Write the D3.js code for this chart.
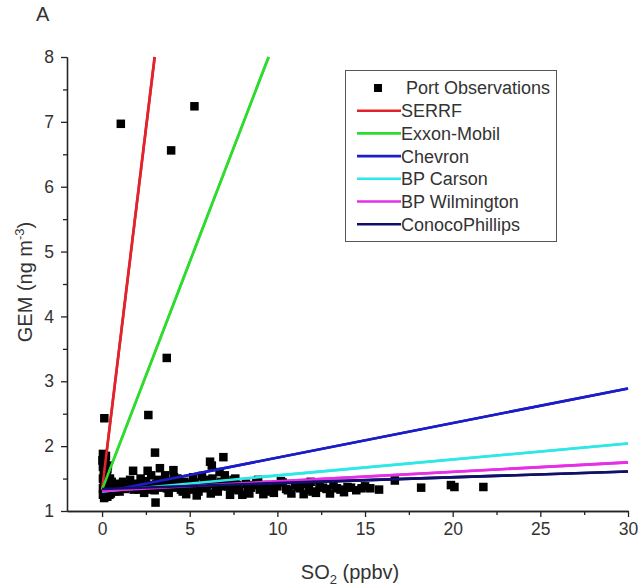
<!DOCTYPE html>
<html><head><meta charset="utf-8">
<script src="https://cdn.jsdelivr.net/npm/d3@7"></script>
<style>
html,body{margin:0;padding:0;background:#fff;}
svg{display:block;font-family:"Liberation Sans",Arial,sans-serif;}
</style></head>
<body>
<svg id="chart" width="640" height="588"></svg>
<script>
// ---- data ----
const obsX = [0.05,0.10,0.15,0.08,0.20,0.05,0.12,0.25,0.10,0.05,0.18,0.30,0.10,0.05,0.20,0.15,0.05,0.30,0.12,0.40,0.50,0.35,0.60,0.45,0.30,0.22,0.13,
  0.02,0.28,0.38,0.42,0.33,0.55,0.25,0.15,0.48,0.7,
  0.8,1.0,1.2,1.4,1.6,1.77,1.8,2.0,2.2,2.4,2.6,2.6,2.8,3.05,3.0,3.2,3.3,3.4,3.6,3.8,4.07,4.0,4.3,4.5,4.7,5.0,5.2,5.5,5.8,6.0,6.16,6.26,6.3,6.5,6.7,6.92,6.8,7.0,7.2,7.5,7.8,8.0,8.2,8.5,8.8,9.0,9.3,9.6,10.0,10.3,10.6,11.0,11.3,11.6,12.0,12.4,12.8,13.2,13.6,14.0,14.5,15.0,15.3,15.8,16.7,18.2,19.9,20.1,21.75,
  0.9,1.1,1.3,1.5,1.7,1.9,2.1,2.3,2.5,2.7,2.9,3.1,3.5,3.7,3.9,4.2,4.4,4.6,4.9,5.1,5.3,5.6,5.9,6.1,6.4,6.6,6.9,7.1,7.4,7.7,8.3,8.6,9.1,9.5,9.9,10.5,11.2,11.8,12.6,13.4,14.2,14.8,
  4.8,5.4,6.2,7.3,8.4,9.2,9.8,10.8,11.5,12.2,13.0,13.8,4.1,5.7,7.6,8.9,10.2,11.9,
  2.64,3.02,1.07,5.27,3.94,3.69];
const obsY = [1.88,1.85,1.80,1.75,1.72,1.68,1.64,1.60,1.55,1.50,1.47,1.44,1.40,1.35,1.32,1.28,1.25,1.22,1.20,1.30,1.27,1.38,1.35,1.50,1.65,1.85,2.43,
  1.78,1.58,1.42,1.25,1.70,1.45,1.52,1.36,1.34,1.30,
  1.42,1.30,1.45,1.38,1.48,1.62,1.33,1.42,1.50,1.28,1.40,1.62,1.55,1.13,1.32,1.48,1.66,1.36,1.55,1.28,1.63,1.40,1.50,1.33,1.45,1.38,1.52,1.30,1.45,1.40,1.76,1.70,1.50,1.35,1.60,1.83,1.45,1.55,1.38,1.48,1.32,1.25,1.42,1.36,1.45,1.33,1.40,1.30,1.38,1.44,1.32,1.40,1.35,1.42,1.30,1.38,1.34,1.40,1.33,1.37,1.32,1.38,1.35,1.33,1.47,1.36,1.40,1.37,1.37,
  1.35,1.40,1.34,1.44,1.36,1.40,1.33,1.38,1.46,1.33,1.40,1.42,1.40,1.35,1.45,1.36,1.42,1.30,1.42,1.33,1.44,1.38,1.35,1.48,1.42,1.30,1.38,1.45,1.33,1.40,1.30,1.40,1.38,1.34,1.40,1.34,1.37,1.33,1.36,1.35,1.36,1.35,
  1.26,1.24,1.27,1.25,1.27,1.26,1.28,1.27,1.26,1.28,1.27,1.29,1.52,1.54,1.50,1.48,1.46,1.45,
  2.48,1.90,6.97,7.24,6.56,3.36];

const lineNames = ["SERRF","Exxon-Mobil","Chevron","BP Carson","BP Wilmington","ConocoPhillips"];
const lineX0 = [0, 0, 0, 0, 0, 0];
const lineY0 = [1.33, 1.33, 1.29, 1.30, 1.31, 1.34];
const lineX1 = [3.0, 9.5, 30, 30, 30, 30];
const lineY1 = [8, 8, 2.89, 2.04, 1.75, 1.61];
const lineColors = ["#e3232b","#2edc2e","#1c1cc8","#2ee8e8","#e62ee6","#10106a"];

const xTicks = [0,5,10,15,20,25,30];
const yTicks = [1,2,3,4,5,6,7,8];

// ---- layout ----
const FONT = "'Liberation Sans',Arial,sans-serif";
const svg = d3.select("#chart");
const x = d3.scaleLinear().domain([-2, 30]).range([67, 628]);
const y = d3.scaleLinear().domain([1, 8]).range([511, 57]);

const xAxis = d3.axisBottom(x).tickValues(xTicks).tickSize(6).tickPadding(6).tickSizeOuter(0).tickFormat(d3.format("d"));
const yAxis = d3.axisLeft(y).tickValues(yTicks).tickSize(6).tickPadding(7).tickSizeOuter(0).tickFormat(d3.format("d"));
const xMinor = d3.axisBottom(x).tickValues(d3.range(2.5, 30, 5)).tickSize(4).tickFormat("").tickSizeOuter(0);
const yMinor = d3.axisLeft(y).tickValues(d3.range(1.5, 8, 1)).tickSize(4).tickFormat("").tickSizeOuter(0);

function styleAxis(g){
  g.selectAll("path,line").attr("stroke","#222").attr("stroke-width",1.3);
  g.selectAll("text").attr("fill","#333").style("font-size","17.5px").style("font-family",FONT);
}
svg.append("g").attr("transform","translate(0,511)").call(xMinor).call(styleAxis);
svg.append("g").attr("transform","translate(0,511)").call(xAxis).call(styleAxis);
svg.append("g").attr("transform","translate(67,0)").call(yMinor).call(styleAxis);
svg.append("g").attr("transform","translate(67,0)").call(yAxis).call(styleAxis);

const plot = svg.append("g");
function drawLines(){
  lineNames.forEach((n,i)=>{
    plot.append("line")
      .attr("x1", x(lineX0[i])).attr("y1", y(lineY0[i]))
      .attr("x2", x(lineX1[i])).attr("y2", y(lineY1[i]))
      .attr("stroke", lineColors[i]).attr("stroke-width", 2.6);
  });
}
drawLines();

const ms = 8.5;
plot.selectAll("rect.obs").data(obsX.map((v,i)=>[v,obsY[i]])).enter()
  .append("rect").attr("class","obs")
  .attr("x", d=>x(d[0])-ms/2).attr("y", d=>y(d[1])-ms/2)
  .attr("width", ms).attr("height", ms).attr("fill","#000");

drawLines();

// legend
const lg = svg.append("g");
lg.append("rect").attr("x",345.5).attr("y",70.5).attr("width",211).attr("height",171)
  .attr("fill","#fff").attr("stroke","#555").attr("stroke-width",1);
const legY0 = 88, legDy = 22.7;
lg.append("rect").attr("x",378-4).attr("y",legY0-4).attr("width",8).attr("height",8).attr("fill","#000");
lg.append("text").attr("x",406).attr("y",legY0).attr("dy","0.36em").text("Port Observations")
  .style("font-size","18px").style("font-family",FONT).attr("fill","#333");
lineNames.forEach((n,i)=>{
  const yy = legY0 + legDy*(i+1);
  lg.append("line").attr("x1",357).attr("x2",401).attr("y1",yy).attr("y2",yy)
    .attr("stroke",lineColors[i]).attr("stroke-width",2.6);
  lg.append("text").attr("x",401).attr("y",yy).attr("dy","0.36em").text(n)
    .style("font-size","18px").style("font-family",FONT).attr("fill","#333");
});

// titles
const xt = svg.append("text").attr("x",350).attr("y",579).attr("text-anchor","middle")
  .style("font-size","20px").style("font-family",FONT).attr("fill","#333");
xt.append("tspan").text("SO");
xt.append("tspan").attr("dy",5).style("font-size","13px").text("2");
xt.append("tspan").attr("dy",-5).text(" (ppbv)");

const yt = svg.append("text").attr("transform","translate(32,282) rotate(-90)").attr("text-anchor","middle")
  .style("font-size","20px").style("font-family",FONT).attr("fill","#333");
yt.append("tspan").text("GEM (ng m");
yt.append("tspan").attr("dy",-8).style("font-size","13px").text("-3");
yt.append("tspan").attr("dy",8).text(")");

svg.append("text").attr("x",36).attr("y",21).text("A").style("font-size","20px").style("font-family",FONT).attr("fill","#333");
</script>
</body></html>
